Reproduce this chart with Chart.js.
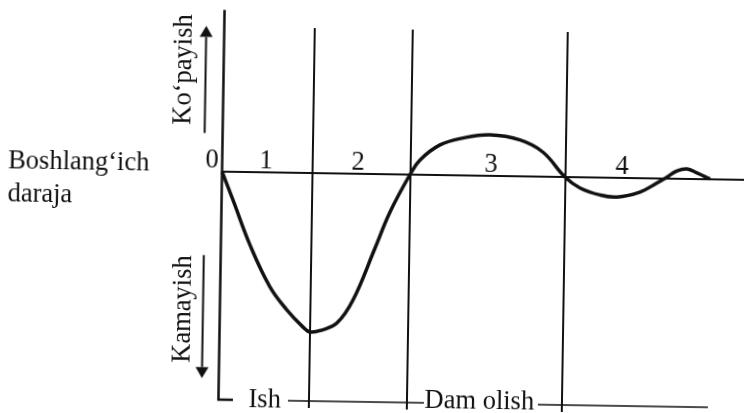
<!DOCTYPE html>
<html>
<head>
<meta charset="utf-8">
<script src="https://cdn.jsdelivr.net/npm/chart.js@4.4.1/dist/chart.umd.min.js"></script>
<style>
  html, body { margin: 0; padding: 0; background: #fff; overflow: hidden; }
  #wrap { width: 744px; height: 413px; transform: rotate(0.9deg); }
  canvas { display: block; }
</style>
</head>
<body>
<div id="wrap"><canvas id="chart" width="744" height="413"></canvas></div>
<script>
// Work capacity over time: deviation from the initial level (0) during work and rest.
const curveX = [0, 1.14, 2.91, 4.98, 6.71, 8.34, 9.05, 10.24, 11.73, 13.3, 15.42, 16.86, 18.8,
                19.78, 21.75, 24.04, 26.74, 29.75, 32.06, 34.3,
                35.82, 37.83, 39.54, 41.83, 43.51, 44.5, 45.49, 46.49, 47.5, 48.81];
const curveY = [0, -2.82, -7.29, -11.46, -13.73, -15.41, -15.9, -15.68, -14.96, -12.63, -7.4, -3.77, 0,
                1.48, 3.01, 3.74, 4.09, 3.63, 2.45, 0,
                -1.07, -1.74, -1.92, -1.38, -0.45, 0.16, 0.78, 1.0, 0.61, 0.03];

// Phase boundaries on the time axis and the phase numbers between them
const phaseBounds = [9.05, 18.85, 34.35];
const phaseLabels = ['0', '1', '2', '3', '4'];
const phaseLabelX = [-1.02, 4.38, 13.58, 26.88, 39.98];

// Extent of the level axis and the phase dividers
const axisTop = 16.17, axisBottom = -22.8;
const dividerTop = 14.5, dividerBottom = -23.5;
const baselineEnd = 52.25;

// Work / rest spans along the bottom
const workSpan = [6.95, 20.55];
const restSpan = [31.95, 48.95];
const spanLevel = -22.8;

const ink = '#111';
const serif = '26.5px "Liberation Serif", "Times New Roman", serif';

const pts = (xs, ys) => xs.map((x, i) => ({ x, y: ys[i] }));
const lineSet = (data, width) => ({
  data, borderColor: ink, borderWidth: width, pointRadius: 0, fill: false, tension: 0
});

const datasets = [
  // initial level
  lineSet([{ x: 0, y: 0 }, { x: baselineEnd, y: 0 }], 2),
  // level axis with its foot
  lineSet([{ x: 0, y: axisTop }, { x: 0, y: axisBottom }, { x: 1.45, y: axisBottom }], 2.5),
  // phase dividers
  ...phaseBounds.map(b => lineSet([{ x: b, y: dividerTop }, { x: b, y: dividerBottom }], 2)),
  // work and rest spans
  lineSet([{ x: workSpan[0], y: spanLevel }, { x: workSpan[1], y: spanLevel }], 1.6),
  lineSet([{ x: restSpan[0], y: spanLevel }, { x: restSpan[1], y: spanLevel }], 1.6),
  // the curve itself
  {
    data: pts(curveX, curveY), borderColor: ink, borderWidth: 3.5, pointRadius: 0,
    fill: false, tension: 0.4
  }
];

// Text labels and direction arrows placed in data coordinates
const annotations = {
  id: 'annotations',
  afterDatasetsDraw(chart) {
    const { ctx, scales: { x, y } } = chart;
    const X = v => x.getPixelForValue(v);
    const Y = v => y.getPixelForValue(v);
    ctx.save();
    ctx.fillStyle = ink;
    ctx.strokeStyle = ink;
    ctx.font = serif;

    // phase numbers
    ctx.textAlign = 'center';
    ctx.textBaseline = 'alphabetic';
    phaseLabels.forEach((t, i) => ctx.fillText(t, X(phaseLabelX[i]), Y(0.37)));

    // initial level caption
    ctx.textAlign = 'left';
    ctx.fillText('Boshlang\u2018ich', X(-21.41), Y(0));
    ctx.fillText('daraja', X(-21.41), Y(-3.34));

    // work / rest captions
    ctx.fillText('Ish', X(3.0), Y(-23.47));
    ctx.fillText('Dam olish', X(20.6), Y(-23.26));

    // vertical captions
    const vertical = (t, bx, cy) => {
      ctx.save();
      ctx.translate(X(bx), Y(cy));
      ctx.rotate(-Math.PI / 2);
      ctx.textAlign = 'center';
      ctx.textBaseline = 'alphabetic';
      ctx.fillText(t, 0, 0);
      ctx.restore();
    };
    vertical('Ko\u2018payish', -3.3, 10.15);
    vertical('Kamayish', -2.92, -13.8);

    // arrows
    const arrow = (ax, from, to) => {
      const px = X(ax), y0 = Y(from), y1 = Y(to);
      const dir = Math.sign(y1 - y0);
      const head = 11, half = 6.5;
      ctx.lineWidth = 2;
      ctx.beginPath();
      ctx.moveTo(px, y0);
      ctx.lineTo(px, y1 - dir * head);
      ctx.stroke();
      ctx.beginPath();
      ctx.moveTo(px, y1);
      ctx.lineTo(px - half, y1 - dir * head);
      ctx.lineTo(px + half, y1 - dir * head);
      ctx.closePath();
      ctx.fill();
    };
    arrow(-1.8, 3.84, 14.54);
    arrow(-1.69, -8.37, -20.67);

    ctx.restore();
  }
};

new Chart(document.getElementById('chart'), {
  type: 'line',
  data: { datasets },
  options: {
    responsive: false,
    animation: false,
    devicePixelRatio: 1,
    layout: { padding: 0 },
    plugins: { legend: { display: false }, tooltip: { enabled: false } },
    scales: {
      x: { type: 'linear', min: -22.15, max: 52.25, display: false },
      y: { type: 'linear', min: -23.9, max: 17.4, display: false }
    }
  },
  plugins: [annotations]
});
</script>
</body>
</html>
